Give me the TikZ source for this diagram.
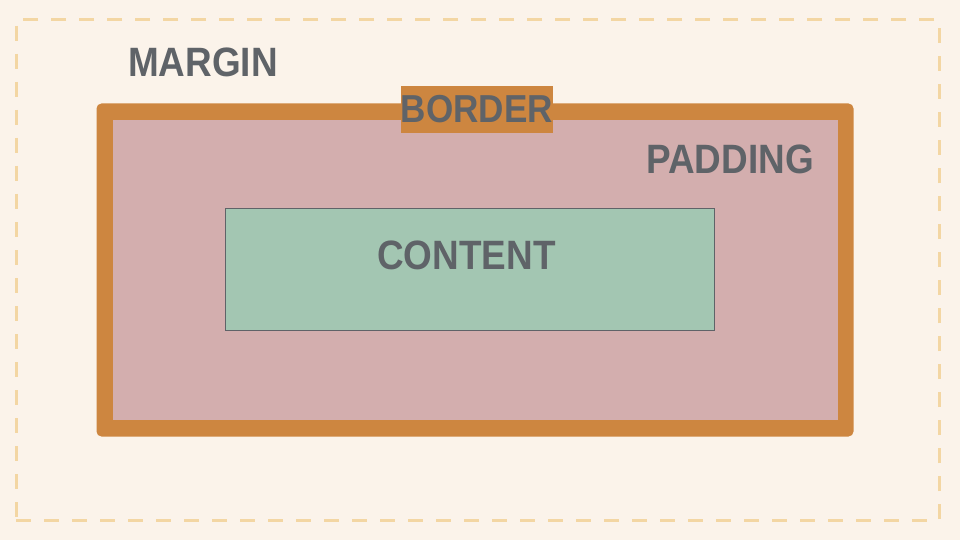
\documentclass[tikz,border=0pt]{standalone}
\usepackage{fontspec}
\setmainfont{Liberation Sans}[FakeStretch=0.9]
\usepackage{xcolor}
\usepackage{tikz}

\definecolor{cream}{HTML}{FBF3EA}
\definecolor{marginline}{HTML}{F3D6A3}
\definecolor{borderfill}{HTML}{CD8640}
\definecolor{paddingfill}{HTML}{D3AEAE}
\definecolor{contentfill}{HTML}{A3C6B2}
\definecolor{labeltext}{HTML}{5F6368}

\tikzset{
    boxlabel/.style={text=labeltext, font=\fontsize{41}{41}\selectfont\bfseries, inner sep=0pt},
}

\begin{document}
\begin{tikzpicture}[x=1pt, y=-1pt]
            \fill[cream] (0, 0) rectangle (960, 540);
            \useasboundingbox (0, 0) rectangle (960, 540);

            \node[draw=marginline, line width=3pt, dash pattern=on 15pt off 13pt, minimum width=923pt, minimum height=500pt, inner sep=0pt] (margin) at (477.5, 270) {};
            \node[fill=borderfill, rounded corners=5pt, minimum width=757pt, minimum height=333pt, inner sep=0pt] (border) at (475, 270) {};
            \node[fill=paddingfill, minimum width=725pt, minimum height=300pt, inner sep=0pt] (padding) at (475.5, 270) {};
            \node[draw=labeltext, fill=contentfill, line width=0.8pt, minimum width=489pt, minimum height=122pt, inner sep=0pt] (content) at (469.5, 269) {};

            \node[boxlabel, anchor=base west] (marginlabel) at (128, 77) {MARGIN};
            \node[boxlabel, font=\fontsize{39}{39}\selectfont\bfseries, fill=borderfill, minimum width=152pt, minimum height=47pt] (borderlabel) at (477, 109.5) {BORDER};
            \node[boxlabel, anchor=base east] (paddinglabel) at (814, 174) {PADDING};
            \node[boxlabel, anchor=base] (contentlabel) at (466.5, 269) {CONTENT};
        \end{tikzpicture}
\end{document}
